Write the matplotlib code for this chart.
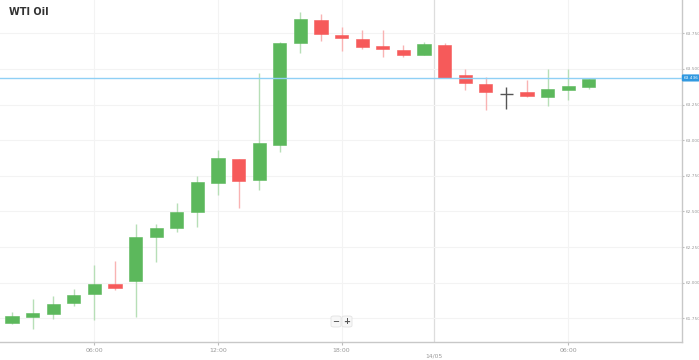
import matplotlib
matplotlib.use("Agg")
import matplotlib.pyplot as plt
from matplotlib.patches import FancyBboxPatch

# hourly candles, 13/05 02:00 .. 14/05 07:00 (one hour missing at the day break)
opens = [61.720, 61.760, 61.779, 61.860, 61.919, 61.989, 62.014, 62.319, 62.386, 62.496,
         62.702, 62.868, 62.721, 62.967, 63.682, 63.844, 63.741, 63.711, 63.659, 63.631,
         63.600, 63.666, 63.458, 63.393, 63.327, 63.336, 63.301, 63.355, 63.374]
highs = [61.795, 61.884, 61.905, 61.956, 62.122, 62.153, 62.412, 62.412, 62.562, 62.749,
         62.932, 62.870, 63.470, 63.690, 63.902, 63.886, 63.797, 63.776, 63.776, 63.666,
         63.687, 63.680, 63.498, 63.446, 63.376, 63.423, 63.498, 63.498, 63.437]
lows = [61.711, 61.673, 61.748, 61.837, 61.736, 61.947, 61.762, 62.146, 62.354, 62.393,
        62.614, 62.525, 62.651, 62.920, 63.610, 63.696, 63.628, 63.642, 63.586, 63.582,
        63.600, 63.439, 63.351, 63.212, 63.219, 63.301, 63.240, 63.282, 63.358]
closes = [61.767, 61.786, 61.853, 61.916, 61.993, 61.963, 62.319, 62.382, 62.499, 62.709,
          62.875, 62.714, 62.979, 63.685, 63.853, 63.746, 63.715, 63.656, 63.640, 63.598,
          63.673, 63.439, 63.400, 63.336, 63.327, 63.308, 63.358, 63.379, 63.432]

y_ticks = [61.75, 62.00, 62.25, 62.50, 62.75, 63.00, 63.25, 63.50, 63.75]
x_tick_pos = [4, 10, 16, 27]
x_tick_labels = ["06:00", "12:00", "18:00", "06:00"]
day_break = 20.5
day_label = "14/05"
last_price = 63.437
last_label = "63.436"

GREEN = "#5cb85c"
RED = "#f65a5a"
GREEN_WICK = "#b7dfb7"
RED_WICK = "#f9b3b3"
DOJI = "#555555"

fig = plt.figure(figsize=(6.99, 3.6), dpi=100)
ax = fig.add_axes([0, 0.05, 682 / 699, 0.95])

for i, (o, h, l, c) in enumerate(zip(opens, highs, lows, closes)):
    if abs(c - o) < 0.001:
        ax.vlines(i, l, h, color=DOJI, lw=1.0, zorder=3)
        ax.hlines(o, i - 0.32, i + 0.32, color=DOJI, lw=1.0, zorder=3)
        continue
    up = c > o
    body = GREEN if up else RED
    wick = GREEN_WICK if up else RED_WICK
    ax.vlines(i, l, h, color=wick, lw=1.0, zorder=2)
    ax.bar(i, abs(c - o), bottom=min(o, c), width=0.64, color=body,
           edgecolor=body, lw=0.4, zorder=3)

# last price line
ax.axhline(last_price, color="#8fd0f5", lw=1.0, zorder=4)

ax.set_xlim(-0.583, 32.52)
ax.set_ylim(61.584, 63.984)

ax.set_yticks(y_ticks)
ax.set_yticklabels(["%.3f" % v for v in y_ticks])
ax.yaxis.tick_right()
ax.tick_params(axis="y", length=1.5, color="#bbbbbb", labelsize=3.1, labelcolor="#999999", pad=1)
ax.set_xticks(x_tick_pos)
ax.set_xticklabels(x_tick_labels)
ax.tick_params(axis="x", length=2, color="#bbbbbb", labelsize=4.5, labelcolor="#999999", pad=2)

ax.grid(True, color="#f3f3f3", lw=0.8, zorder=0)
ax.axvline(day_break, color="#dddddd", lw=0.9, zorder=1)
ax.text(day_break, -0.04, day_label, transform=ax.get_xaxis_transform(),
        ha="center", va="center", fontsize=4.3, color="#999999")

for side in ["top", "left"]:
    ax.spines[side].set_visible(False)
for side in ["right", "bottom"]:
    ax.spines[side].set_color("#c8c8c8")
    ax.spines[side].set_linewidth(1.0)

# price tag on the right axis
ax.text(1.002, last_price, last_label, transform=ax.get_yaxis_transform(),
        ha="left", va="center", fontsize=3.1, color="white",
        bbox=dict(boxstyle="round,pad=0.2,rounding_size=0.15", fc="#2f98e0", ec="#2f98e0"))

# title
fig.text(9 / 699, 1 - 12 / 360, "WTI Oil", fontsize=7, fontweight="bold",
         color="#333333", ha="left", va="center")

# zoom buttons
for xc, lab in [(336, "−"), (347, "+")]:
    fig.patches.append(FancyBboxPatch(((xc - 5) / 699, 1 - 327 / 360), 10 / 699, 11 / 360,
                                      boxstyle="round,pad=0,rounding_size=0.004",
                                      transform=fig.transFigure, fc="#f7f7f7",
                                      ec="#e2e2e2", lw=0.6, zorder=5))
    fig.text(xc / 699, 1 - 321.5 / 360, lab, fontsize=6, fontweight="bold",
             color="#555555", ha="center", va="center", zorder=6)

fig.savefig("out.png", dpi=100)
